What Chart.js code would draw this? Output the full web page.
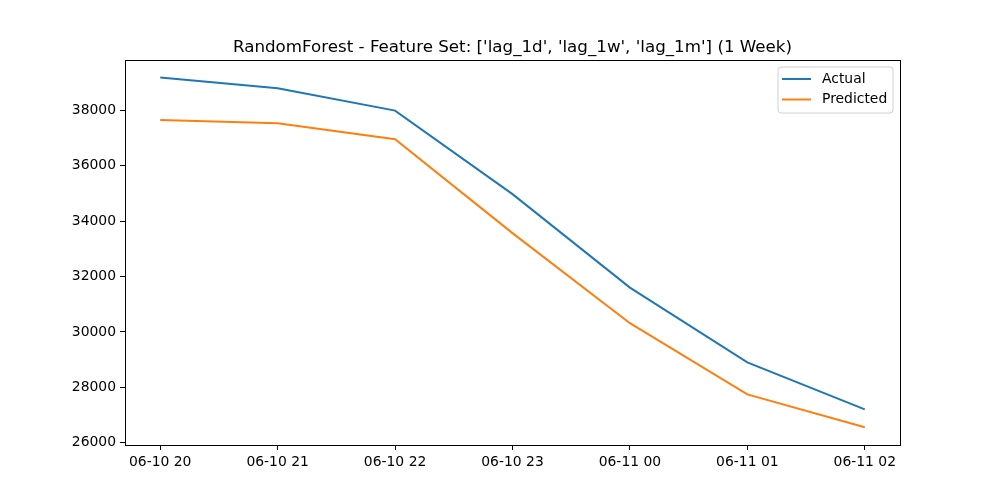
<!DOCTYPE html>
<html>
<head>
<meta charset="utf-8">
<script src="https://cdn.jsdelivr.net/npm/chart.js@4.4.1/dist/chart.umd.min.js"></script>
<style>
html,body{margin:0;padding:0;background:#fff;}
#c{display:block;}
</style>
</head>
<body>
<canvas id="c" width="1000" height="500"></canvas>
<script>
const chartTitle = "RandomForest - Feature Set: ['lag_1d', 'lag_1w', 'lag_1m'] (1 Week)";
const xLabels = ["06-10 20", "06-10 21", "06-10 22", "06-10 23", "06-11 00", "06-11 01", "06-11 02"];
const actual = [39180, 38800, 37990, 34975, 31600, 28900, 27205];
const predicted = [37650, 37530, 36955, 33565, 30315, 27745, 26555];
const yTicks = [26000, 28000, 30000, 32000, 34000, 36000, 38000];
const seriesNames = ["Actual", "Predicted"];
const seriesColors = ["#1f77b4", "#ff7f0e"];

const FONT = "'DejaVu Sans', sans-serif";

function toPoints(arr) { return arr.map((v, i) => ({ x: i, y: v })); }

const framePlugin = {
  id: 'frame',
  afterDraw(chart) {
    const ctx = chart.ctx, a = chart.chartArea;
    ctx.save();
    ctx.strokeStyle = '#000';
    ctx.lineWidth = 1;
    ctx.strokeRect(Math.round(a.left) + 0.5, Math.round(a.top) + 0.5, Math.round(a.right - a.left), Math.round(a.bottom - a.top));
    // title
    ctx.fillStyle = '#000';
    ctx.font = "16.7px " + FONT;
    ctx.textAlign = 'center';
    ctx.textBaseline = 'alphabetic';
    ctx.fillText(chartTitle, (a.left + a.right) / 2, 52);
    // legend
    const bx = 778, by = 67, bw = 115, bh = 46, r = 3;
    ctx.beginPath();
    ctx.moveTo(bx + r, by);
    ctx.arcTo(bx + bw, by, bx + bw, by + bh, r);
    ctx.arcTo(bx + bw, by + bh, bx, by + bh, r);
    ctx.arcTo(bx, by + bh, bx, by, r);
    ctx.arcTo(bx, by, bx + bw, by, r);
    ctx.closePath();
    ctx.fillStyle = 'rgba(255,255,255,0.8)';
    ctx.fill();
    ctx.strokeStyle = '#d0d0d0';
    ctx.lineWidth = 1;
    ctx.stroke();
    ctx.font = "13.9px " + FONT;
    ctx.textAlign = 'left';
    ctx.textBaseline = 'middle';
    chart.data.datasets.forEach((ds, i) => {
      const y = 79 + i * 20.5;
      ctx.strokeStyle = ds.borderColor;
      ctx.lineWidth = 2;
      ctx.beginPath();
      ctx.moveTo(782, y);
      ctx.lineTo(811, y);
      ctx.stroke();
      ctx.fillStyle = '#000';
      ctx.fillText(ds.label, 822, y);
    });
    ctx.restore();
  }
};

new Chart(document.getElementById('c'), {
  type: 'line',
  data: {
    datasets: [
      { label: seriesNames[0], data: toPoints(actual), borderColor: seriesColors[0], backgroundColor: seriesColors[0], borderWidth: 2, pointRadius: 0, tension: 0, fill: false },
      { label: seriesNames[1], data: toPoints(predicted), borderColor: seriesColors[1], backgroundColor: seriesColors[1], borderWidth: 2, pointRadius: 0, tension: 0, fill: false }
    ]
  },
  options: {
    responsive: false,
    animation: false,
    events: [],
    layout: { padding: { top: 60, right: 100, left: 0, bottom: 0 } },
    plugins: { legend: { display: false }, title: { display: false }, tooltip: { enabled: false } },
    scales: {
      x: {
        type: 'linear',
        min: -0.3,
        max: 6.3,
        afterBuildTicks(scale) { scale.ticks = xLabels.map((_, i) => ({ value: i })); },
        afterFit(scale) { scale.height = 55; },
        grid: { display: true, drawOnChartArea: false, drawTicks: true, tickLength: 5, color: '#000', tickWidth: 1 },
        border: { display: true, color: '#000', width: 1 },
        ticks: { color: '#000', font: { family: FONT, size: 13.9 }, padding: 4, maxRotation: 0, autoSkip: false,
          callback: (v) => xLabels[v] }
      },
      y: {
        type: 'linear',
        min: 25917,
        max: 39816,
        afterBuildTicks(scale) { scale.ticks = yTicks.map(v => ({ value: v })); },
        afterFit(scale) { scale.width = 125; },
        grid: { display: true, drawOnChartArea: false, drawTicks: true, tickLength: 5, color: '#000', tickWidth: 1 },
        border: { display: true, color: '#000', width: 1 },
        ticks: { color: '#000', font: { family: FONT, size: 13.9 }, padding: 4, autoSkip: false,
          callback: (v) => String(v) }
      }
    }
  },
  plugins: [framePlugin]
});
</script>
</body>
</html>
